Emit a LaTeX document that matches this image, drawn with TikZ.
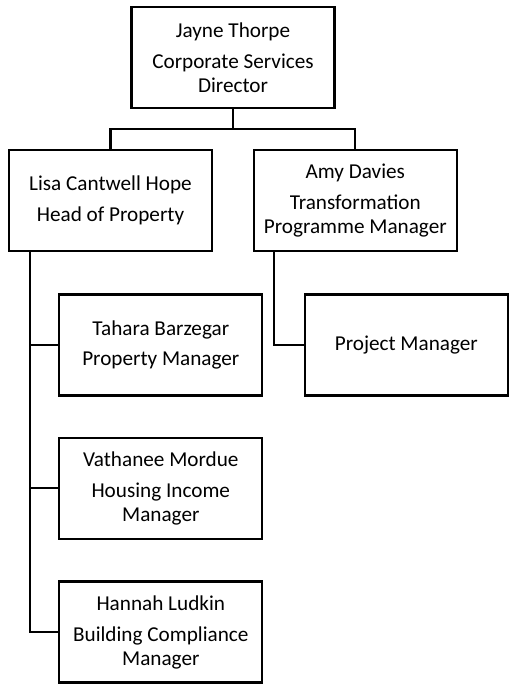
\documentclass[tikz,border=0pt]{standalone}
\usepackage{fontspec}
\setmainfont{Carlito}
\begin{document}
\begin{tikzpicture}[x=1pt,y=-1pt,
  box/.style={draw, line width=2.2pt, minimum width=203pt, minimum height=101pt,
    inner sep=0pt, align=center, font=\fontsize{21.2}{23.5}\selectfont},
  link/.style={line width=2.2pt}]
\useasboundingbox (0,0) rectangle (511,684);
\node[box] (jt) at (233,57.3) {Jayne Thorpe\\[8pt]Corporate Services\\Director};
\node[box] (lch) at (110.5,200.5) {Lisa Cantwell Hope\\[8pt]Head of Property};
\node[box] (ad) at (355.3,200.5) {Amy Davies\\[8pt]Transformation\\Programme Manager};
\node[box] (tb) at (160.8,345) {Tahara Barzegar\\[6pt]Property Manager};
\node[box] (pm) at (406.3,345) {Project Manager};
\node[box] (vm) at (160.8,488.3) {Vathanee Mordue\\[8pt]Housing Income\\Manager};
\node[box] (hl) at (160.8,632) {Hannah Ludkin\\[8pt]Building Compliance\\Manager};
\coordinate (j1) at (233,129.3);
\coordinate (lbus) at (29.7,200.5);
\coordinate (abus) at (274.3,200.5);
\draw[link] (jt.south) -- (j1) -| (lch.north);
\draw[link] (j1) -| (ad.north);
\draw[link] (lbus |- lch.south) |- (tb.west);
\draw[link] (lbus |- lch.south) |- (vm.west);
\draw[link] (lbus |- lch.south) |- (hl.west);
\draw[link] (abus |- ad.south) |- (pm.west);
\end{tikzpicture}
\end{document}
